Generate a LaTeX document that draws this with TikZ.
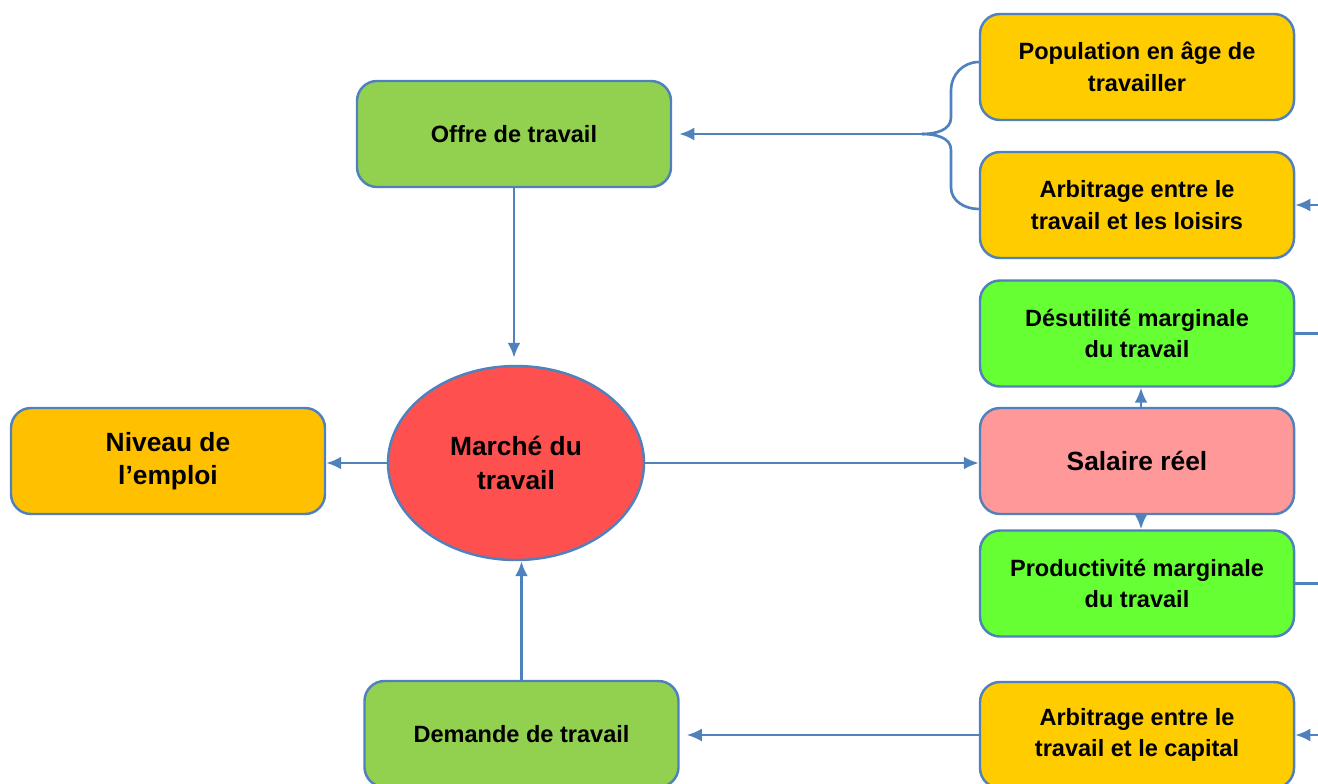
\documentclass[tikz,border=0pt]{standalone}
\usepackage{fontspec}
\setmainfont{Liberation Sans}
\usetikzlibrary{arrows.meta,positioning,shapes.geometric}
\definecolor{edge}{HTML}{4F81BD}
\definecolor{vert}{HTML}{92D050}
\definecolor{vif}{HTML}{66FF33}
\definecolor{jaune}{HTML}{FFCC00}
\definecolor{orange}{HTML}{FFC000}
\definecolor{rose}{HTML}{FF9999}
\definecolor{rouge}{HTML}{FF5050}
\begin{document}
\begin{tikzpicture}[
  box/.style={rectangle, rounded corners=0.4cm, draw=edge, line width=1.4pt, minimum width=6.28cm, minimum height=2.12cm, align=center, font=\fontsize{13.4}{18}\selectfont\bfseries},
  bigbox/.style={box, font=\fontsize{15}{19}\selectfont\bfseries},
  conn/.style={draw=edge, line width=1.5pt},
  >={Latex[length=0.3cm, width=0.26cm]}
]
\useasboundingbox (0,0) rectangle (26.36,-15.66);
\clip (0,0) rectangle (26.36,-15.66);

\node[box, fill=vert] (offre) at (10.28, -2.68) {Offre de travail};
\node[box, fill=vert] (dem) at (10.43, -14.68) {Demande de travail};
\node[bigbox, fill=orange] (niv) at (3.36, -9.22) {\rule{0pt}{10pt}Niveau de\\l'emploi};
\node[ellipse, draw=edge, line width=1.4pt, fill=rouge, minimum width=5.12cm, minimum height=3.88cm, align=center, font=\fontsize{15}{19}\selectfont\bfseries] (mdt) at (10.32, -9.26) {Marché du\\travail};

\node[box, fill=jaune] (pop) at (22.74, -1.34) {Population en âge de\\travailler};
\node[box, fill=jaune] (arbl) at (22.74, -4.10) {Arbitrage entre le\\travail et les loisirs};
\node[box, fill=vif] (des) at (22.74, -6.67) {Désutilité marginale\\du travail};
\node[bigbox, fill=rose] (sal) at (22.74, -9.22) {Salaire réel};
\node[box, fill=vif] (prod) at (22.74, -11.67) {Productivité marginale\\du travail};
\node[box, fill=jaune] (arbc) at (22.74, -14.70) {Arbitrage entre le\\travail et le capital};

\coordinate (brace) at (18.44, -2.68);
\coordinate (rim) at (27, 0);

\draw[conn, ->, shorten >=4pt] (offre.south) -- (offre.south |- mdt.north);
\draw[conn, ->] (dem.north) -- (dem.north |- mdt.south);
\draw[conn, ->] (mdt.west) -- (mdt.west -| niv.east);
\draw[conn, ->] (mdt.east) -- (mdt.east -| sal.west);
\draw[conn, ->] ([xshift=0.08cm]sal.north) -- ([xshift=0.08cm]des.south);
\draw[conn, ->] ([xshift=0.08cm]sal.south) -- ([xshift=0.08cm]prod.north);

\draw[conn] ([yshift=0.1cm]pop.west) to[out=180, in=90] (19.02, -1.8) -- (19.02, -2.35) to[out=-90, in=0] (brace);
\draw[conn] (brace) to[out=0, in=90] (19.02, -3.0) -- (19.02, -3.75) to[out=-90, in=180] ([yshift=-0.08cm]arbl.west);
\draw[conn, ->, shorten >=4pt] (brace) -- (offre.east);
\draw[conn, ->, shorten >=4pt] (arbc.west) -- (arbc.west -| dem.east);

\draw[conn, ->] (rim |- arbl.east) -- (arbl.east);
\draw[conn] (rim |- des.east) -- (des.east);
\draw[conn] (rim |- prod.east) -- (prod.east);
\draw[conn, ->] (rim |- arbc.east) -- (arbc.east);

\end{tikzpicture}
\end{document}
